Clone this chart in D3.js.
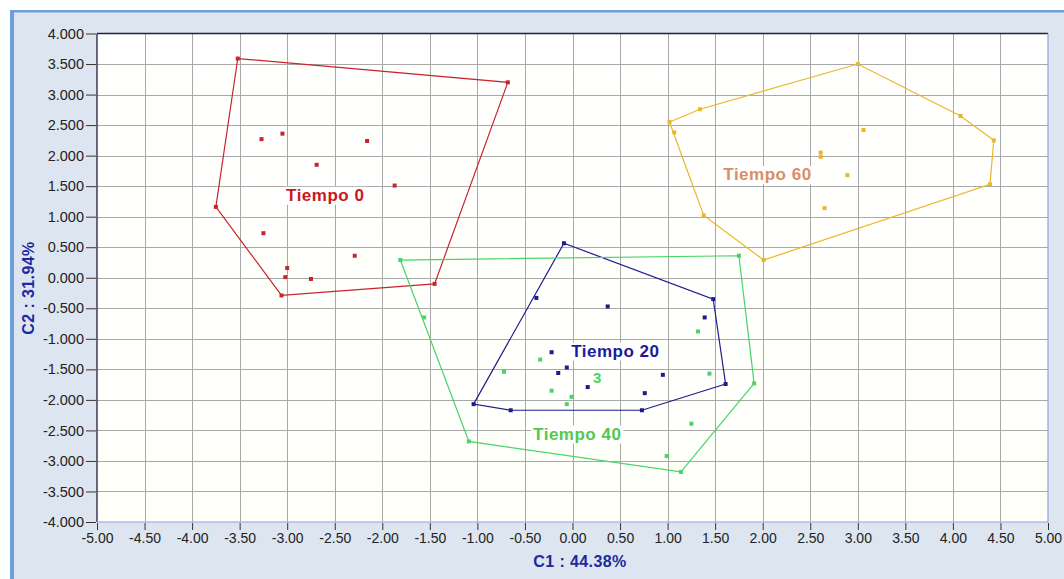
<!DOCTYPE html>
<html>
<head>
<meta charset="utf-8">
<script src="https://cdn.jsdelivr.net/npm/d3@7"></script>
<style>
  body { margin: 0; background: #fff; }
  svg { display: block; }
</style>
</head>
<body>
<div id="chart"></div>
<script>
// values (C1, C2 scores)
var tiempo0 = [
  [-3.52, 3.59], [-0.68, 3.20], [-1.45, -0.10], [-3.06, -0.29], [-3.75, 1.16],
  [-3.27, 2.27], [-3.05, 2.36], [-2.16, 2.24], [-2.69, 1.85], [-1.87, 1.51],
  [-3.25, 0.73], [-2.29, 0.36], [-3.00, 0.16], [-3.02, 0.01], [-2.75, -0.02]
];
var tiempo20 = [
  [-0.09, 0.565], [1.48, -0.35], [1.61, -1.74], [0.73, -2.17], [-0.65, -2.17], [-1.04, -2.07],
  [-0.38, -0.33], [0.37, -0.47], [1.39, -0.65], [-0.22, -1.22], [-0.06, -1.47],
  [-0.15, -1.56], [0.95, -1.59], [0.16, -1.79], [0.76, -1.89]
];
var tiempo40 = [
  [-1.81, 0.29], [1.75, 0.36], [1.91, -1.73], [1.14, -3.18], [-1.09, -2.68],
  [-1.56, -0.65], [1.32, -0.88], [-0.72, -1.54], [-0.34, -1.34], [1.44, -1.57],
  [-0.22, -1.85], [-0.01, -1.95], [-0.06, -2.07], [1.25, -2.39], [0.99, -2.92]
];
var tiempo60 = [
  [3.00, 3.50], [4.08, 2.65], [4.43, 2.25], [4.39, 1.53], [2.01, 0.29], [1.38, 1.02],
  [1.07, 2.38], [1.02, 2.55], [1.34, 2.76], [3.06, 2.42], [2.61, 2.05], [2.61, 1.98],
  [2.89, 1.68], [2.65, 1.14]
];

var groups = [
  { name: 'Tiempo 0',  pts: tiempo0,  line: '#c8242c', label: '#c8181e', at: [-2.60, 1.36] },
  { name: 'Tiempo 20', pts: tiempo20, line: '#1c1c8e', label: '#1c1c96', at: [0.45, -1.19] },
  { name: 'Tiempo 40', pts: tiempo40, line: '#48d468', label: '#52c84e', at: [0.05, -2.55] },
  { name: 'Tiempo 60', pts: tiempo60, line: '#e8b828', label: '#d88e68', at: [2.05, 1.70] }
];

// the stray "3" tag near the middle
var extraTags = [{ text: '3', x: 0.26, y: -1.63, color: '#48d468' }];

var xTicks = d3.range(-5, 5.001, 0.5);
var yTicks = d3.range(-4, 4.001, 0.5);
var xTitle = 'C1 : 44.38%';
var yTitle = 'C2 : 31.94%';

var W = 1064, H = 579;
var m = { left: 97, right: 1048, top: 33.5, bottom: 522 };

var svg = d3.select('#chart').append('svg')
  .attr('width', W).attr('height', H)
  .style('font-family', '"Liberation Sans", Arial, sans-serif');

// panel background
svg.append('rect').attr('x', 10).attr('y', 10).attr('width', W - 10).attr('height', H - 10)
  .attr('fill', '#dde6f0');
svg.append('rect').attr('x', 10).attr('y', 10).attr('width', W - 10).attr('height', 2.5)
  .attr('fill', '#6e9fdc');
svg.append('rect').attr('x', 10).attr('y', 10).attr('width', 4).attr('height', H - 10)
  .attr('fill', '#6e9fdc');

var defs = svg.append('defs');
var grad = defs.append('linearGradient').attr('id', 'plotbg')
  .attr('x1', 0).attr('y1', 0).attr('x2', 0).attr('y2', 1);
grad.append('stop').attr('offset', '0%').attr('stop-color', '#ffffff');
grad.append('stop').attr('offset', '100%').attr('stop-color', '#fffffa');

var x = d3.scaleLinear().domain([-5, 5]).range([m.left, m.right]);
var y = d3.scaleLinear().domain([-4, 4]).range([m.bottom, m.top]);

svg.append('rect').attr('x', m.left).attr('y', m.top)
  .attr('width', m.right - m.left).attr('height', m.bottom - m.top)
  .attr('fill', 'url(#plotbg)');

// grid
var grid = svg.append('g').attr('stroke', '#a8a8a8').attr('stroke-width', 1).attr('shape-rendering', 'crispEdges');
grid.selectAll('.gx').data(xTicks.slice(1, -1)).enter().append('line')
  .attr('x1', d => Math.round(x(d)) + 0.5).attr('x2', d => Math.round(x(d)) + 0.5)
  .attr('y1', m.top).attr('y2', m.bottom);
grid.selectAll('.gy').data(yTicks.slice(1, -1)).enter().append('line')
  .attr('y1', d => Math.round(y(d)) + 0.5).attr('y2', d => Math.round(y(d)) + 0.5)
  .attr('x1', m.left).attr('x2', m.right);

// frame: dark left/top, lavender right/bottom
svg.append('line').attr('x1', m.left).attr('x2', m.right).attr('y1', m.top).attr('y2', m.top)
  .attr('stroke', '#202040').attr('stroke-width', 1.3);
svg.append('line').attr('x1', m.left).attr('x2', m.left).attr('y1', m.top).attr('y2', m.bottom)
  .attr('stroke', '#202040').attr('stroke-width', 1.3);
svg.append('line').attr('x1', m.right).attr('x2', m.right).attr('y1', m.top).attr('y2', m.bottom)
  .attr('stroke', '#9a9ae0').attr('stroke-width', 1.2);
svg.append('line').attr('x1', m.left).attr('x2', m.right).attr('y1', m.bottom).attr('y2', m.bottom)
  .attr('stroke', '#9a9ae0').attr('stroke-width', 1.2);

// plain hyphen minus like the original
var fx = d3.format('.2f'), fy = d3.format('.3f');
var hyph = s => s.replace('\u2212', '-');

// axes
var xAxis = d3.axisBottom(x).tickValues(xTicks).tickFormat(d => hyph(fx(d))).tickSize(7).tickPadding(3);
var gx = svg.append('g').attr('transform', 'translate(0,' + (m.bottom + 1) + ')').call(xAxis);
gx.select('.domain').remove();
gx.selectAll('line').attr('stroke', '#333');
gx.selectAll('text').attr('font-size', 14).attr('fill', '#222').attr('font-family', null);

var yAxis = d3.axisLeft(y).tickValues(yTicks).tickFormat(d => hyph(fy(d))).tickSize(10).tickPadding(2);
var gy = svg.append('g').attr('transform', 'translate(' + (m.left - 1) + ',0)').call(yAxis);
gy.select('.domain').remove();
gy.selectAll('line').attr('stroke', '#333');
gy.selectAll('text').attr('font-size', 14.5).attr('fill', '#222').attr('font-family', null);

// axis titles
svg.append('text').attr('x', 580).attr('y', 567).attr('text-anchor', 'middle')
  .attr('font-size', 16).attr('font-weight', 'bold').attr('letter-spacing', 0.4)
  .attr('fill', '#1c2aa0').text(xTitle);
svg.append('text').attr('transform', 'translate(34,288) rotate(-90)').attr('text-anchor', 'middle')
  .attr('font-size', 16).attr('font-weight', 'bold').attr('letter-spacing', 0.4)
  .attr('fill', '#1c2aa0').text(yTitle);

// hulls and points
var plot = svg.append('g');
groups.forEach(function (g) {
  var hull = d3.polygonHull(g.pts);
  plot.append('path')
    .attr('d', 'M' + hull.map(p => [x(p[0]), y(p[1])].join(',')).join('L') + 'Z')
    .attr('fill', 'none').attr('stroke', g.line).attr('stroke-width', 1.2);
  plot.selectAll(null).data(g.pts).enter().append('rect')
    .attr('x', d => x(d[0]) - 2).attr('y', d => y(d[1]) - 2)
    .attr('width', 4).attr('height', 4)
    .attr('fill', g.line);
});

// group labels on white
groups.forEach(function (g) {
  var t = plot.append('text')
    .attr('x', x(g.at[0])).attr('y', y(g.at[1]))
    .attr('dy', '0.36em').attr('text-anchor', 'middle')
    .attr('font-size', 17).attr('font-weight', 'bold').attr('letter-spacing', 0.5)
    .attr('fill', g.label).text(g.name);
  var bb = t.node().getBBox();
  plot.insert('rect', function () { return t.node(); })
    .attr('x', bb.x - 2).attr('y', bb.y + 1).attr('width', bb.width + 4).attr('height', bb.height - 1)
    .attr('fill', '#fff');
});

plot.selectAll('.tag').data(extraTags).enter().append('text')
  .attr('x', d => x(d.x)).attr('y', d => y(d.y)).attr('dy', '0.36em')
  .attr('text-anchor', 'middle').attr('font-size', 15).attr('font-weight', 'bold').attr('fill', d => d.color)
  .text(d => d.text);
</script>
</body>
</html>
